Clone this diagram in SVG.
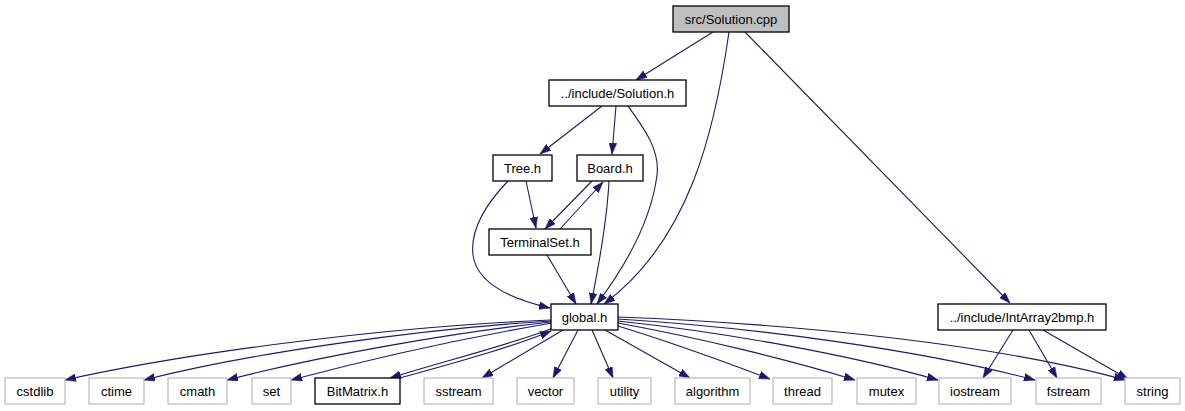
<svg xmlns="http://www.w3.org/2000/svg" width="1185" height="411" viewBox="0 0 1185 411">
<style>
.n rect{fill:#fff;stroke:#000;stroke-width:1.3}
.g rect{fill:#fff;stroke:#bfbfbf;stroke-width:1.3}
.r rect{fill:#bfbfbf;stroke:#000;stroke-width:1.3}
text{font-family:"Liberation Sans",Arial,sans-serif;font-size:13px;text-anchor:middle;fill:#000}
.e path{fill:none;stroke:#191970;stroke-width:1.1;marker-end:url(#a)}
</style>
<defs>
<marker id="a" viewBox="0 0 10 7" refX="10" refY="3.5" markerWidth="11" markerHeight="8" markerUnits="userSpaceOnUse" orient="auto">
<path d="M0,0 L10,3.5 L0,7 z" fill="#191970" stroke="#191970" stroke-width="0.5"/>
</marker>
</defs>
<rect width="1185" height="411" fill="#fff"/>
<g id="edges" class="e">
<path d="M713,32 L636,80"/>
<path d="M729,32 C715,130 690,240 604,304"/>
<path d="M745,32 L1010,303"/>
<path d="M602,106 L540,154"/>
<path d="M616,106 L612,154"/>
<path d="M628,106 C645,130 660,150 657,175 C652,215 630,260 597,304"/>
<path d="M526,181 L536,228"/>
<path d="M508,181 C485,205 470,230 473,255 C477,285 515,300 550,308"/>
<path d="M592,181 L545,229"/>
<path d="M560,229 L603,182"/>
<path d="M609,181 C607,220 600,260 591,304"/>
<path d="M547,255 L576,304"/>
<path d="M1013,330 L983,378"/>
<path d="M1029,330 L1057,378"/>
<path d="M1043,330 L1128,379"/>
<path d="M551,320 C400,326 200,350 65,380"/>
<path d="M551,321 C420,329 250,353 144,380"/>
<path d="M551,322 C450,333 320,356 227,380"/>
<path d="M552,323 C470,337 370,359 291,380"/>
<path d="M553,328 C510,345 440,362 390,378"/>
<path d="M400,378 C450,364 510,348 551,331"/>
<path d="M563,330 L482,378"/>
<path d="M578,330 L553,378"/>
<path d="M592,330 L613,378"/>
<path d="M605,330 L690,378"/>
<path d="M618,326 C670,342 720,360 770,379"/>
<path d="M618,323 C700,338 790,360 855,380"/>
<path d="M618,321 C730,333 850,355 938,380"/>
<path d="M618,319 C760,328 920,350 1035,380"/>
<path d="M618,317 C800,324 1000,345 1125,380"/>
</g>
<g id="n_solution_cpp" class="r"><rect x="673" y="6" width="116" height="26"/><text x="731" y="23.5">src/Solution.cpp</text></g>
<g id="n_solution_h" class="n"><rect x="549" y="80" width="137" height="26"/><text x="617.5" y="97.5">../include/Solution.h</text></g>
<g id="n_tree" class="n"><rect x="493" y="155" width="59" height="26"/><text x="522.5" y="172.5">Tree.h</text></g>
<g id="n_board" class="n"><rect x="577" y="155" width="66" height="26"/><text x="610" y="172.5">Board.h</text></g>
<g id="n_terminalset" class="n"><rect x="489" y="229" width="102" height="26"/><text x="540" y="246.5">TerminalSet.h</text></g>
<g id="n_global" class="n"><rect x="551" y="304" width="67" height="26"/><text x="584.5" y="321.5">global.h</text></g>
<g id="n_intarray" class="n"><rect x="938" y="304" width="168" height="26"/><text x="1022" y="321.5">../include/IntArray2bmp.h</text></g>
<g id="n_cstdlib" class="g"><rect x="5" y="378" width="60" height="26"/><text x="35" y="395.5">cstdlib</text></g>
<g id="n_ctime" class="g"><rect x="89" y="378" width="55" height="26"/><text x="116.5" y="395.5">ctime</text></g>
<g id="n_cmath" class="g"><rect x="168" y="378" width="59" height="26"/><text x="197.5" y="395.5">cmath</text></g>
<g id="n_set" class="g"><rect x="252" y="378" width="39" height="26"/><text x="271.5" y="395.5">set</text></g>
<g id="n_bitmatrix" class="n"><rect x="315" y="378" width="85" height="26"/><text x="357.5" y="395.5">BitMatrix.h</text></g>
<g id="n_sstream" class="g"><rect x="424" y="378" width="69" height="26"/><text x="458.5" y="395.5">sstream</text></g>
<g id="n_vector" class="g"><rect x="517" y="378" width="57" height="26"/><text x="545.5" y="395.5">vector</text></g>
<g id="n_utility" class="g"><rect x="598" y="378" width="53" height="26"/><text x="624.5" y="395.5">utility</text></g>
<g id="n_algorithm" class="g"><rect x="675" y="378" width="75" height="26"/><text x="712.5" y="395.5">algorithm</text></g>
<g id="n_thread" class="g"><rect x="773" y="378" width="59" height="26"/><text x="802.5" y="395.5">thread</text></g>
<g id="n_mutex" class="g"><rect x="857" y="378" width="59" height="26"/><text x="886.5" y="395.5">mutex</text></g>
<g id="n_iostream" class="g"><rect x="939" y="378" width="72" height="26"/><text x="975" y="395.5">iostream</text></g>
<g id="n_fstream" class="g"><rect x="1036" y="378" width="65" height="26"/><text x="1068.5" y="395.5">fstream</text></g>
<g id="n_string" class="g"><rect x="1125" y="378" width="55" height="26"/><text x="1152.5" y="395.5">string</text></g>
</svg>
